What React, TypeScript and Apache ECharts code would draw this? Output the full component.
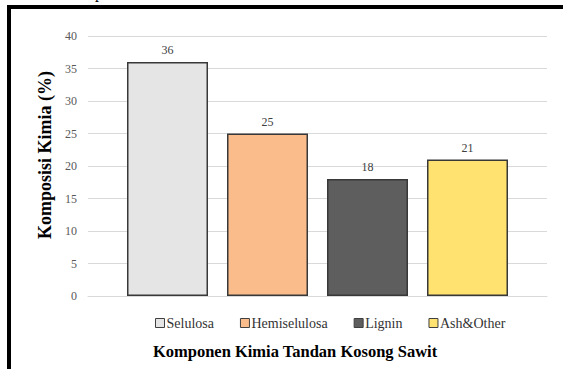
import React, { useEffect, useRef } from "react";
import * as echarts from "echarts";

const categories = ["Selulosa", "Hemiselulosa", "Lignin", "Ash&Other"];
const values = [36, 25, 18, 21];
const colors = ["#e5e5e5", "#fbbc8c", "#5e5e5e", "#ffe26f"];
const yTicks = [0, 5, 10, 15, 20, 25, 30, 35, 40];
const xTitle = "Komponen Kimia Tandan Kosong Sawit";
const yTitle = "Komposisi Kimia (%)";

const SERIF = "Liberation Serif";

export default function App() {
  const ref = useRef<HTMLDivElement>(null);
  useEffect(() => {
    if (!ref.current) return;
    const chart = echarts.init(ref.current, undefined, { renderer: "svg" });
    const yMax = yTicks[yTicks.length - 1];
    const series = categories.map((name, i) => ({
      name,
      type: "bar",
      stack: "all",
      xAxisIndex: 1,
      yAxisIndex: 1,
      barWidth: 81,
      data: categories.map((_, j) => (j === i ? values[i] : "-")),
      itemStyle: { color: colors[i], borderColor: "#383838", borderWidth: 1.5 },
      label: {
        show: true,
        position: "top",
        distance: 6,
        fontFamily: SERIF,
        fontSize: 12,
        color: "#404040",
      },
    }));
    chart.setOption({
      animation: false,
      backgroundColor: "#ffffff",
      textStyle: { fontFamily: SERIF },
      grid: [
        { left: 88, right: 16, top: 36, bottom: 73 },
        { left: 117.5, width: 400, top: 36, bottom: 73 },
      ],
      xAxis: [
        {
          gridIndex: 0,
          type: "category",
          data: categories,
          axisLine: { show: true, lineStyle: { color: "#d9d9d9", width: 1 } },
          axisTick: { show: false },
          axisLabel: { show: false },
        },
        {
          gridIndex: 1,
          type: "category",
          data: categories,
          axisLine: { show: false },
          axisTick: { show: false },
          axisLabel: { show: false },
        },
      ],
      yAxis: [
        {
          gridIndex: 0,
          type: "value",
          min: 0,
          max: yMax,
          interval: 5,
          axisLine: { show: false },
          axisTick: { show: false },
          splitLine: { lineStyle: { color: "#d9d9d9", width: 1 } },
          axisLabel: {
            margin: 11,
            fontFamily: SERIF,
            fontSize: 12,
            color: "#595959",
          },
        },
        {
          gridIndex: 1,
          type: "value",
          min: 0,
          max: yMax,
          interval: 5,
          show: false,
          splitLine: { show: false },
        },
      ],
      legend: {
        data: categories,
        left: 150,
        top: 311,
        icon: "rect",
        itemWidth: 9,
        itemHeight: 9,
        itemGap: 26,
        itemStyle: { borderColor: "#404040", borderWidth: 1 },
        textStyle: { fontFamily: SERIF, fontSize: 14, color: "#333333", padding: [0, 0, 0, -3] },
      },
      series,
      graphic: [
        {
          type: "text",
          x: 63,
          y: 0,
          z: 0,
          style: {
            text: "Komposisi",
            fontFamily: SERIF,
            fontSize: 16,
            fill: "#000",
            verticalAlign: "bottom",
          },
        },
        { type: "rect", shape: { x: 7, y: 5, width: 556, height: 4 }, style: { fill: "#000" }, z: 10 },
        { type: "rect", shape: { x: 7, y: 5, width: 4, height: 364 }, style: { fill: "#000" }, z: 10 },
        {
          type: "text",
          x: 295,
          y: 351,
          style: {
            text: xTitle,
            fontFamily: SERIF,
            fontWeight: "bold",
            fontSize: 16.5,
            fill: "#000",
            align: "center",
            verticalAlign: "middle",
          },
        },
        {
          type: "text",
          x: 45,
          y: 155,
          rotation: Math.PI / 2,
          style: {
            text: yTitle,
            fontFamily: SERIF,
            fontWeight: "bold",
            fontSize: 18,
            fill: "#000",
            align: "center",
            verticalAlign: "middle",
          },
        },
      ],
    });
    return () => chart.dispose();
  }, []);
  return (
    <div
      ref={ref}
      style={{ position: "absolute", left: 0, top: 0, width: 563, height: 369 }}
    />
  );
}
